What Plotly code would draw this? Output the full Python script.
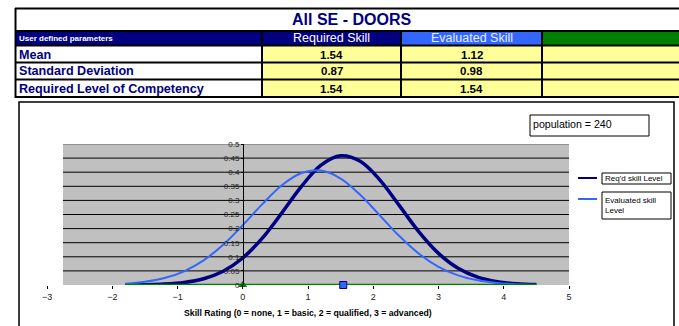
import plotly.graph_objects as go

W, H = 679, 326

# ---------------- data ----------------
title = "All SE - DOORS"
row_labels = ["Mean", "Standard Deviation", "Required Level of Competency"]
col_headers = ["Required Skill", "Evaluated Skill"]
required_vals = [1.54, 0.87, 1.54]
evaluated_vals = [1.12, 0.98, 1.54]
population = 240

skill_x = [-1.8, -1.5, -1.2, -0.9, -0.6, -0.3, 0.0, 0.3, 0.6, 0.9, 1.2, 1.5,
           1.8, 2.1, 2.4, 2.7, 3.0, 3.3, 3.6, 3.9, 4.2, 4.5]
reqd_y = [0.0003, 0.0010, 0.0032, 0.0090, 0.0223, 0.0490, 0.0957, 0.1661,
          0.2558, 0.3499, 0.4249, 0.4581, 0.4386, 0.3728, 0.2814, 0.1885,
          0.1122, 0.0593, 0.0278, 0.0116, 0.0043, 0.0014]
eval_y = [0.0048, 0.0114, 0.0247, 0.0486, 0.0873, 0.1425, 0.2119, 0.2868,
          0.3537, 0.3970, 0.4057, 0.3776, 0.3200, 0.2469, 0.1735, 0.1110,
          0.0646, 0.0343, 0.0166, 0.0073, 0.0029, 0.0011]
baseline_x = [-1.8, 4.5]
baseline_y = [0, 0]
competency_x = [0]
competency_y = [0]
mean_marker_x = [1.54]
mean_marker_y = [0]

x_ticks = [-3, -2, -1, 0, 1, 2, 3, 4, 5]
y_ticks = [0, 0.05, 0.1, 0.15, 0.2, 0.25, 0.3, 0.35, 0.4, 0.45, 0.5]
y_ticktext = ["0", "0.05", "0.1", "0.15", "0.2", "0.25", "0.3", "0.35", "0.4", "0.45", "0.5"]

# ---------------- helpers ----------------
def px(x):
    return x / W

def py(y):
    return 1 - y / H

FONT = "Arial, Liberation Sans, sans-serif"
NAVY = "#000080"
LBLUE = "#3366FF"
GREEN = "#008000"
YELLOW = "#FFFF99"

shapes = []
annotations = []

def rect(x0, y0, x1, y1, fill, line_color=None, lw=0, layer="above"):
    shapes.append(dict(type="rect", xref="paper", yref="paper",
                       x0=px(x0), x1=px(x1), y0=py(y1), y1=py(y0),
                       fillcolor=fill, layer=layer,
                       line=dict(color=line_color or fill, width=lw)))

def hline(x0, x1, y, color="black", w=2):
    shapes.append(dict(type="line", xref="paper", yref="paper",
                       x0=px(x0), x1=px(x1), y0=py(y), y1=py(y),
                       line=dict(color=color, width=w)))

def vline(x, y0, y1, color="black", w=2):
    shapes.append(dict(type="line", xref="paper", yref="paper",
                       x0=px(x), x1=px(x), y0=py(y0), y1=py(y1),
                       line=dict(color=color, width=w)))

def text(x, y, s, size, color="black", bold=False, xanchor="center", yanchor="middle", align="center"):
    if bold:
        s = "<b>" + s + "</b>"
    annotations.append(dict(xref="paper", yref="paper", x=px(x), y=py(y), text=s,
                            showarrow=False, xanchor=xanchor, yanchor=yanchor, align=align,
                            borderpad=0,
                            font=dict(family=FONT, size=size, color=color)))

# ---------------- table ----------------
cols = [15, 262, 401, 542, 681]
rows = [8, 31, 45.5, 62.5, 79.5, 97]

rect(cols[0], rows[1], cols[1], rows[2], NAVY)
rect(cols[1], rows[1], cols[2], rows[2], NAVY)
rect(cols[2], rows[1], cols[3], rows[2], LBLUE)
rect(cols[3], rows[1], cols[4], rows[2], GREEN)
for r in range(3):
    rect(cols[1], rows[r + 2], cols[4], rows[r + 3], YELLOW)

hline(cols[0], cols[4], rows[0] + 0.5, w=2)
for y in rows[1:]:
    hline(cols[0], cols[4], y, w=2)
vline(cols[0] + 0.5, rows[0], rows[-1] + 1, w=2)
for x in cols[1:4]:
    vline(x, rows[1], rows[-1] + 1, w=2)

text(351, 19.5, title, 16, NAVY, bold=True)
text(18, 38.5, "User defined parameters", 8, "white", bold=True, xanchor="left")
text((cols[1] + cols[2]) / 2, 38.5, col_headers[0], 12.5, "white")
text((cols[2] + cols[3]) / 2, 38.5, col_headers[1], 12.5, "#E8EEFF")
for r in range(3):
    yc = (rows[r + 2] + rows[r + 3]) / 2 + 0.5
    text(18, yc, row_labels[r], 12.6, NAVY, bold=True, xanchor="left")
    text((cols[1] + cols[2]) / 2, yc, f"{required_vals[r]:.2f}", 11.5, "black", bold=True)
    text((cols[2] + cols[3]) / 2, yc, f"{evaluated_vals[r]:.2f}", 11.5, "black", bold=True)

# ---------------- chart frame ----------------
rect(19, 102, 674, 340, "rgba(0,0,0,0)", "black", 1.5)

PL, PR = 63, 569
shapes.append(dict(type="rect", xref="paper", yref="y", x0=px(PL), x1=px(PR), y0=0, y1=0.5,
                   fillcolor="#C0C0C0", line=dict(width=0), layer="below"))
for yv in y_ticks[1:-1]:
    shapes.append(dict(type="line", xref="paper", yref="y", x0=px(PL), x1=px(PR), y0=yv, y1=yv,
                       line=dict(color="black", width=1), layer="below"))
shapes.append(dict(type="line", xref="paper", yref="y", x0=px(PL), x1=px(PR), y0=0.5, y1=0.5,
                   line=dict(color="#808080", width=1.5), layer="below"))

# population box
rect(530, 115, 649, 136, "white", "black", 1)
text(532, 117, f"population = {population}", 10.6, "black", xanchor="left", yanchor="top", align="left")

# legend
hline(578, 597, 178, NAVY, 2)
rect(602, 173, 671, 184, "white", "black", 1)
text(604, 178.5, "Req'd skill Level", 8, "black", xanchor="left")
hline(578, 597, 199, LBLUE, 2)
rect(602, 192, 671, 219, "white", "black", 1)
text(604, 205.5, "Evaluated skill<br>Level", 8, "black", xanchor="left", align="left")

# axis title
text(308, 313, "Skill Rating (0 = none, 1 = basic, 2 = qualified, 3 = advanced)", 8.7, "black", bold=True)

# ---------------- traces ----------------
fig = go.Figure()
fig.add_trace(go.Scatter(x=skill_x, y=reqd_y, mode="lines", line=dict(color=NAVY, width=3.5, shape="spline"),
                         name="Req'd skill Level"))
fig.add_trace(go.Scatter(x=skill_x, y=eval_y, mode="lines", line=dict(color=LBLUE, width=2, shape="spline"),
                         name="Evaluated skill Level"))
fig.add_trace(go.Scatter(x=baseline_x, y=baseline_y, mode="lines", line=dict(color=GREEN, width=2.5),
                         name="baseline", cliponaxis=False))
fig.add_trace(go.Scatter(x=competency_x, y=competency_y, mode="markers", cliponaxis=False,
                         marker=dict(symbol="triangle-up", color=GREEN, size=8), name="competency"))
fig.add_trace(go.Scatter(x=mean_marker_x, y=mean_marker_y, mode="markers", cliponaxis=False,
                         marker=dict(symbol="square", color=LBLUE, size=7, line=dict(color=NAVY, width=1)),
                         name="mean"))

fig.update_layout(
    width=W, height=H,
    margin=dict(l=0, r=0, t=0, b=0, autoexpand=False),
    paper_bgcolor="white", plot_bgcolor="rgba(0,0,0,0)",
    showlegend=False,
    shapes=shapes, annotations=annotations,
    xaxis=dict(domain=[px(47), px(569)], range=[-3, 5], tickvals=x_ticks,
               showgrid=False, zeroline=False, showline=False,
               ticks="outside", ticklen=3, tickcolor="black",
               tickfont=dict(family=FONT, size=9, color="#222"), fixedrange=True),
    yaxis=dict(domain=[py(285), py(144)], range=[0, 0.5], tickvals=y_ticks, ticktext=y_ticktext,
               anchor="free", position=px(243), side="left",
               showgrid=False, zeroline=False, showline=True, linecolor="black", linewidth=1,
               ticks="outside", ticklen=2, tickcolor="black",
               tickfont=dict(family=FONT, size=8, color="#222"), fixedrange=True),
)

fig.write_html("out.html", config={"displayModeBar": False},
               post_script="document.body.style.margin='0px';document.body.style.padding='0px';document.body.style.overflow='hidden';")
